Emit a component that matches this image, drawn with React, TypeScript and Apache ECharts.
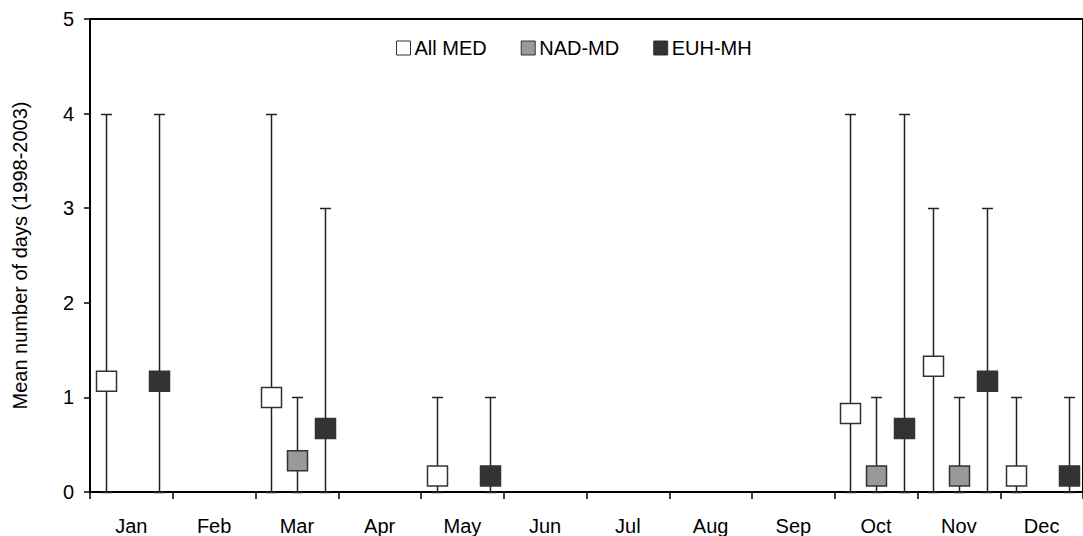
import React, { useEffect, useRef } from "react";
import * as echarts from "echarts";

const months = ["Jan", "Feb", "Mar", "Apr", "May", "Jun", "Jul", "Aug", "Sep", "Oct", "Nov", "Dec"];
const seriesNames = ["All MED", "NAD-MD", "EUH-MH"];
// mean values (null = no marker)
const allMedMean = [1.17, null, 1.0, null, 0.17, null, null, null, null, 0.83, 1.33, 0.17];
const allMedMax = [4, null, 4, null, 1, null, null, null, null, 4, 3, 1];
const nadMdMean = [null, null, 0.33, null, null, null, null, null, null, 0.17, 0.17, null];
const nadMdMax = [null, null, 1, null, null, null, null, null, null, 1, 1, null];
const euhMhMean = [1.17, null, 0.67, null, 0.17, null, null, null, null, 0.67, 1.17, 0.17];
const euhMhMax = [4, null, 3, null, 1, null, null, null, null, 4, 3, 1];
const minValue = 0;
const yTicks = [0, 1, 2, 3, 4, 5];

const fills = ["#ffffff", "#999999", "#333333"];
const offsets = [-0.31, 0.0, 0.335];
const FONT = "Arial, 'Liberation Sans', sans-serif";

function buildData(mean: (number | null)[], max: (number | null)[]) {
  const out: any[] = [];
  mean.forEach((m, i) => {
    if (m !== null) out.push([i, m, minValue, max[i]]);
  });
  return out;
}

export default function App() {
  const ref = useRef<HTMLDivElement>(null);
  useEffect(() => {
    if (!ref.current) return;
    const chart = echarts.init(ref.current, undefined, { renderer: "svg" });
    const datas = [
      buildData(allMedMean, allMedMax),
      buildData(nadMdMean, nadMdMax),
      buildData(euhMhMean, euhMhMax),
    ];
    const series = datas.map((d, si) => ({
      name: seriesNames[si],
      type: "custom",
      data: d,
      itemStyle: { color: fills[si], borderColor: "#333", borderWidth: 1 },
      renderItem: (params: any, api: any) => {
        const idx = api.value(0);
        const mean = api.value(1);
        const lo = api.value(2);
        const hi = api.value(3);
        const band = api.size([1, 0])[0];
        const c = api.coord([idx, mean]);
        const x = Math.round(c[0] + offsets[si] * band) + 0.5;
        const yMean = c[1];
        const yHi = Math.round(api.coord([idx, hi])[1]) + 0.5;
        const yLo = Math.round(api.coord([idx, lo])[1]) + 0.5;
        const lineStyle = { stroke: "#222", lineWidth: 1.5 };
        const half = 10;
        const cap = 5.5;
        return {
          type: "group",
          children: [
            { type: "line", shape: { x1: x, y1: yHi, x2: x, y2: yLo }, style: lineStyle },
            { type: "line", shape: { x1: x - cap, y1: yHi, x2: x + cap, y2: yHi }, style: lineStyle },
            { type: "line", shape: { x1: x - cap, y1: yLo, x2: x + cap, y2: yLo }, style: lineStyle },
            {
              type: "rect",
              shape: { x: x - half, y: yMean - half, width: 2 * half, height: 2 * half },
              style: { fill: fills[si], stroke: "#333", lineWidth: 1.5 },
            },
          ],
        };
      },
    }));
    chart.setOption({
      animation: false,
      backgroundColor: "#ffffff",
      textStyle: { fontFamily: FONT },
      legend: {
        data: seriesNames.map((n, i) => ({
          name: n,
          icon: "rect",
          itemStyle: { color: fills[i], borderColor: "#333", borderWidth: 1 },
        })),
        left: 391,
        top: 33,
        itemWidth: 14,
        itemHeight: 14,
        itemGap: 34,
        textStyle: { fontSize: 20, color: "#000", fontFamily: FONT, padding: [0, 0, 0, -1] },
      },
      grid: { left: 90, top: 19, width: 1002, height: 475, show: true, borderColor: "#000", borderWidth: 2, backgroundColor: "transparent" },
      xAxis: {
        type: "category",
        data: months,
        boundaryGap: true,
        axisLine: { lineStyle: { color: "#000", width: 2 } },
        axisTick: { show: true, interval: 0, length: 7, inside: false, lineStyle: { color: "#000", width: 1.5 } },
        axisLabel: { interval: 0, fontSize: 20, color: "#000", margin: 24, fontFamily: FONT },
        splitLine: { show: false },
      },
      yAxis: {
        type: "value",
        min: yTicks[0],
        max: yTicks[yTicks.length - 1],
        interval: 1,
        name: "Mean number of days (1998-2003)",
        nameLocation: "middle",
        nameGap: 60,
        nameTextStyle: { fontSize: 20, color: "#000", fontFamily: FONT },
        axisLine: { show: true, lineStyle: { color: "#000", width: 2 } },
        axisTick: { show: true, length: 6, lineStyle: { color: "#000", width: 1.5 } },
        axisLabel: { fontSize: 20, color: "#000", margin: 16, fontFamily: FONT },
        splitLine: { show: false },
      },
      series,
    });
    return () => chart.dispose();
  }, []);
  return <div ref={ref} style={{ position: "fixed", left: 0, top: 0, width: 1083, height: 536 }} />;
}
